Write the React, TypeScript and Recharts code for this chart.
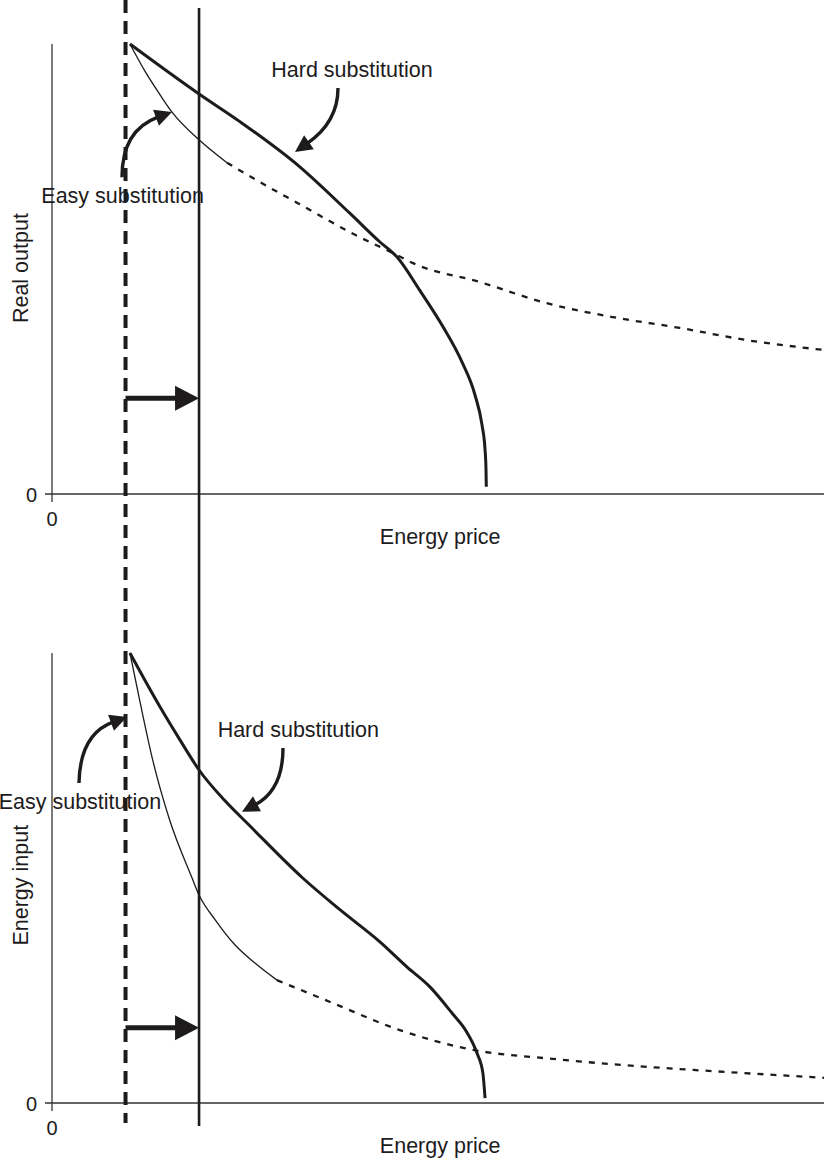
import React from "react"
import { ComposedChart, Line, XAxis, YAxis, ReferenceLine, ReferenceDot } from "recharts"

// canvas + scale set-up (pixels)
const W = 824
const H = 1160
const PX_PER_PRICE = 73.52
const PX_PER_UNIT = 45
const AXIS_LEFT = 52
const TOP_ZERO = 494
const BOTTOM_ZERO = 1103

const INK = "#1d1b1c"
const FONT = "'Liberation Sans', Arial, Helvetica, sans-serif"

// data (energy price on x, output / energy input on y, axis runs 0..10)
const priceMax = 10.5
const oldPrice = 1.0
const newPrice = 2.0
const axisTop = 10

const hardOutput = [
    { x: 1.06, y: 10.0 }, { x: 2.0, y: 8.89 }, { x: 2.56, y: 8.27 }, { x: 3.37, y: 7.27 },
    { x: 4.05, y: 6.24 }, { x: 4.46, y: 5.6 }, { x: 4.69, y: 5.27 }, { x: 5.0, y: 4.53 },
    { x: 5.32, y: 3.71 }, { x: 5.577, y: 2.93 }, { x: 5.753, y: 2.2 }, { x: 5.849, y: 1.53 },
    { x: 5.89, y: 0.98 }, { x: 5.903, y: 0.53 }, { x: 5.907, y: 0.16 },
]
const easyOutputNear = [
    { x: 1.06, y: 10.0 }, { x: 1.27, y: 9.38 }, { x: 1.47, y: 8.87 }, { x: 1.63, y: 8.49 },
    { x: 2.0, y: 7.87 }, { x: 2.38, y: 7.36 },
]
const easyOutputFar = [
    { x: 2.38, y: 7.36 }, { x: 2.97, y: 6.8 }, { x: 3.37, y: 6.44 }, { x: 4.05, y: 5.82 },
    { x: 4.69, y: 5.31 }, { x: 4.91, y: 5.13 }, { x: 5.82, y: 4.71 }, { x: 6.73, y: 4.24 },
    { x: 7.63, y: 3.93 }, { x: 8.54, y: 3.69 }, { x: 9.45, y: 3.42 }, { x: 10.5, y: 3.2 },
]
const hardInput = [
    { x: 1.06, y: 10.0 }, { x: 1.47, y: 8.8 }, { x: 1.74, y: 8.07 }, { x: 2.0, y: 7.4 },
    { x: 2.35, y: 6.72 }, { x: 2.69, y: 6.16 }, { x: 3.41, y: 5.0 }, { x: 3.92, y: 4.29 },
    { x: 4.46, y: 3.58 }, { x: 4.83, y: 3.02 }, { x: 5.14, y: 2.58 }, { x: 5.44, y: 2.0 },
    { x: 5.64, y: 1.58 }, { x: 5.78, y: 1.11 }, { x: 5.86, y: 0.67 }, { x: 5.89, y: 0.11 },
]
const easyInputNear = [
    { x: 1.06, y: 10.0 }, { x: 1.2, y: 8.89 }, { x: 1.37, y: 7.62 }, { x: 1.6, y: 6.29 },
    { x: 1.9, y: 5.02 }, { x: 2.0, y: 4.62 }, { x: 2.22, y: 4.07 }, { x: 2.49, y: 3.51 },
    { x: 2.76, y: 3.11 }, { x: 3.06, y: 2.73 },
]
const easyInputFar = [
    { x: 3.06, y: 2.73 }, { x: 3.82, y: 2.22 }, { x: 4.73, y: 1.62 }, { x: 5.73, y: 1.18 },
    { x: 6.81, y: 0.98 }, { x: 8.13, y: 0.8 }, { x: 9.36, y: 0.67 }, { x: 10.5, y: 0.56 },
]

const xTitle = "Energy price"
const zeroTick = "0"
const hardLabel = "Hard substitution"
const easyLabel = "Easy substitution"

// annotation placement, in data units of each panel
const panels = [
    {
        id: "top", zero: TOP_ZERO, yTitle: "Real output", yTitleAt: 5.02,
        hard: hardOutput, easyNear: easyOutputNear, easyFar: easyOutputFar,
        shiftArrowY: 2.13,
        hardText: { x: 4.08, y: 9.27 }, easyText: { x: 0.96, y: 6.47 },
        hardArrow: { from: { x: 3.89, y: 9.02 }, to: { x: 3.305, y: 7.6 }, ctrl: [0, 34] },
        easyArrow: { from: { x: 0.952, y: 7.04 }, to: { x: 1.632, y: 8.49 }, ctrl: [0, -47] },
    },
    {
        id: "bottom", zero: BOTTOM_ZERO, yTitle: "Energy input", yTitleAt: 4.84,
        hard: hardInput, easyNear: easyInputNear, easyFar: easyInputFar,
        shiftArrowY: 1.67,
        hardText: { x: 3.35, y: 8.13 }, easyText: { x: 0.38, y: 6.53 },
        hardArrow: { from: { x: 3.142, y: 7.89 }, to: { x: 2.584, y: 6.47 }, ctrl: [0, 42] },
        easyArrow: { from: { x: 0.367, y: 7.11 }, to: { x: 1.02, y: 8.58 }, ctrl: [1, -49] },
    },
]

const X_MIN = -AXIS_LEFT / PX_PER_PRICE
const domainFor = (zero: number) => [(zero - H) / PX_PER_UNIT, zero / PX_PER_UNIT]
const pxToY = (zero: number, px: number) => (zero - px) / PX_PER_UNIT

const curvedArrow = (ctrl: number[]) => (p: any) => {
    const { x1, y1, x2, y2 } = p
    const cx = x1 + ctrl[0], cy = y1 + ctrl[1]
    const dx = x2 - cx, dy = y2 - cy
    const len = Math.hypot(dx, dy) || 1
    const ux = dx / len, uy = dy / len
    const hl = 17, hw = 8.5
    const bx = x2 - ux * hl, by = y2 - uy * hl
    return (
        <g>
            <path d={`M${x1},${y1} Q${cx},${cy} ${bx + ux * 2},${by + uy * 2}`} fill="none" stroke={INK} strokeWidth={3.4} />
            <polygon points={`${x2},${y2} ${bx - uy * hw},${by + ux * hw} ${bx + uy * hw},${by - ux * hw}`} fill={INK} />
        </g>
    )
}

const shiftArrow = (p: any) => {
    const { x1, y1, x2 } = p
    const hl = 24, hw = 12.5
    return (
        <g>
            <line x1={x1} y1={y1} x2={x2 - hl + 2} y2={y1} stroke={INK} strokeWidth={5} />
            <polygon points={`${x2},${y1} ${x2 - hl},${y1 - hw} ${x2 - hl},${y1 + hw}`} fill={INK} />
        </g>
    )
}

const textAt = (value: string, size: number, anchor: string = "middle", rotate = false) => (p: any) => (
    <text
        x={p.cx}
        y={p.cy}
        fontFamily={FONT}
        fontSize={size}
        fill={INK}
        textAnchor={anchor}
        transform={rotate ? `rotate(-90, ${p.cx}, ${p.cy})` : undefined}
    >
        {value}
    </text>
)

const lineProps = { type: "monotone" as const, stroke: INK, dot: false, activeDot: false, isAnimationActive: false }

export default function App() {
    return (
        <div style={{ position: "absolute", left: 0, top: 0, width: W, height: H, background: "#fff" }}>
            <ComposedChart width={W} height={H} margin={{ top: 0, right: 0, bottom: 0, left: 0 }}>
                <XAxis type="number" dataKey="x" domain={[X_MIN, priceMax]} allowDataOverflow hide />
                {panels.map((pn) => (
                    <YAxis key={pn.id} yAxisId={pn.id} type="number" domain={domainFor(pn.zero)} allowDataOverflow hide />
                ))}

                {panels.map((pn) => [
                    // axes
                    <ReferenceLine key={pn.id + "-yax"} yAxisId={pn.id} stroke="#333" strokeWidth={1.3}
                        segment={[{ x: 0, y: pxToY(pn.zero, pn.zero + 8) }, { x: 0, y: axisTop }]} />,
                    <ReferenceLine key={pn.id + "-xax"} yAxisId={pn.id} stroke="#333" strokeWidth={1.3}
                        segment={[{ x: -7 / PX_PER_PRICE, y: 0 }, { x: priceMax, y: 0 }]} />,
                    <ReferenceDot key={pn.id + "-y0"} yAxisId={pn.id} x={-20.5 / PX_PER_PRICE} y={pxToY(pn.zero, pn.zero + 8)}
                        r={0} shape={textAt(zeroTick, 20)} />,
                    <ReferenceDot key={pn.id + "-x0"} yAxisId={pn.id} x={0} y={pxToY(pn.zero, pn.zero + 32)}
                        r={0} shape={textAt(zeroTick, 20)} />,
                    <ReferenceDot key={pn.id + "-xt"} yAxisId={pn.id} x={5.28} y={pxToY(pn.zero, pn.zero + 50)}
                        r={0} shape={textAt(xTitle, 21.5)} />,
                    <ReferenceDot key={pn.id + "-yt"} yAxisId={pn.id} x={-24 / PX_PER_PRICE} y={pn.yTitleAt}
                        r={0} shape={textAt(pn.yTitle, 21.5, "middle", true)} />,
                    // price shift arrow
                    <ReferenceLine key={pn.id + "-shift"} yAxisId={pn.id}
                        segment={[{ x: oldPrice, y: pn.shiftArrowY }, { x: newPrice, y: pn.shiftArrowY }]}
                        shape={shiftArrow} />,
                    // curves
                    <Line key={pn.id + "-hard"} yAxisId={pn.id} data={pn.hard} dataKey="y" {...lineProps} strokeWidth={3} />,
                    <Line key={pn.id + "-easyN"} yAxisId={pn.id} data={pn.easyNear} dataKey="y" {...lineProps} strokeWidth={1.3} />,
                    <Line key={pn.id + "-easyF"} yAxisId={pn.id} data={pn.easyFar} dataKey="y" {...lineProps}
                        strokeWidth={2.3} strokeDasharray="6 7" />,
                    // annotations
                    <ReferenceDot key={pn.id + "-ht"} yAxisId={pn.id} x={pn.hardText.x} y={pn.hardText.y}
                        r={0} shape={textAt(hardLabel, 21.5)} />,
                    <ReferenceDot key={pn.id + "-et"} yAxisId={pn.id} x={pn.easyText.x} y={pn.easyText.y}
                        r={0} shape={textAt(easyLabel, 21.5)} />,
                    <ReferenceLine key={pn.id + "-ha"} yAxisId={pn.id}
                        segment={[pn.hardArrow.from, pn.hardArrow.to]} shape={curvedArrow(pn.hardArrow.ctrl)} />,
                    <ReferenceLine key={pn.id + "-ea"} yAxisId={pn.id}
                        segment={[pn.easyArrow.from, pn.easyArrow.to]} shape={curvedArrow(pn.easyArrow.ctrl)} />,
                ])}

                {/* old and new energy price, running through both panels */}
                <ReferenceLine yAxisId="top" stroke={INK} strokeWidth={4} strokeDasharray="13 8"
                    segment={[{ x: oldPrice, y: pxToY(TOP_ZERO, 0) }, { x: oldPrice, y: pxToY(TOP_ZERO, 1123) }]} />
                <ReferenceLine yAxisId="top" stroke={INK} strokeWidth={2.6}
                    segment={[{ x: newPrice, y: pxToY(TOP_ZERO, 8) }, { x: newPrice, y: pxToY(TOP_ZERO, 1126) }]} />
            </ComposedChart>
        </div>
    )
}
